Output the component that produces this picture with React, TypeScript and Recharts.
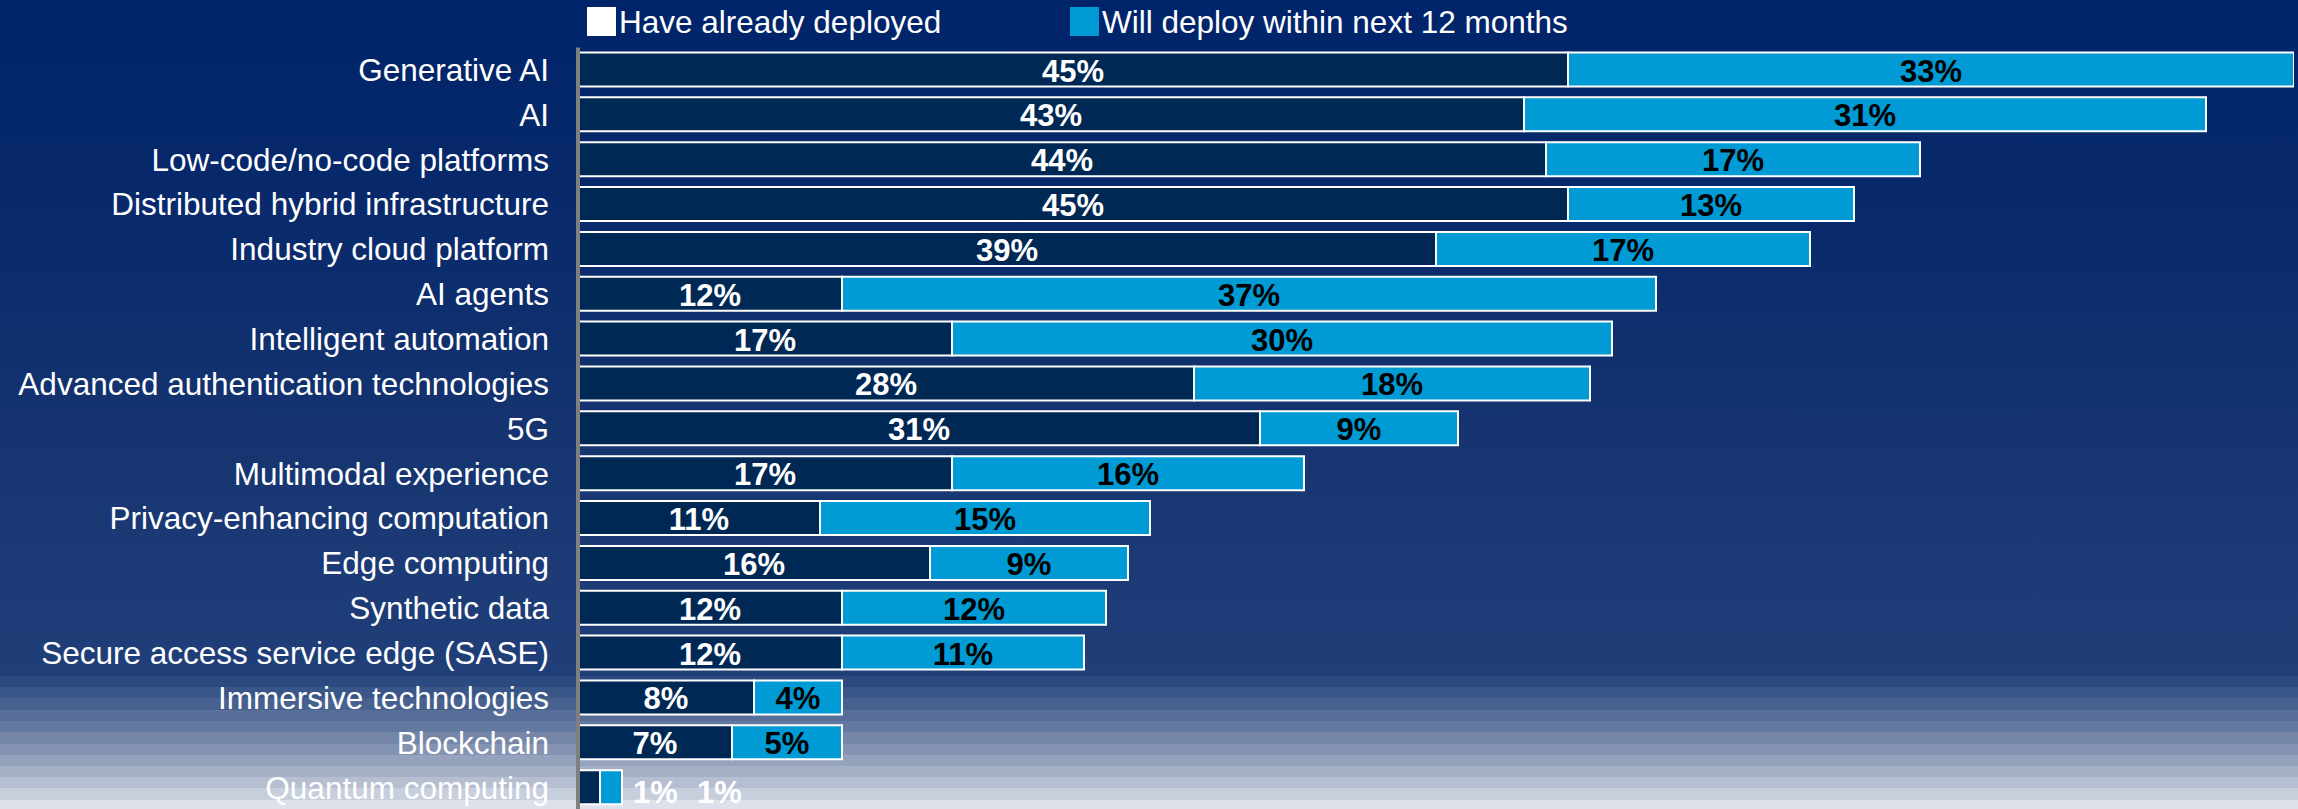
import React from 'react';
import { BarChart, Bar, XAxis, YAxis, LabelList, Legend } from 'recharts';

const categories = [
  'Generative AI',
  'AI',
  'Low-code/no-code platforms',
  'Distributed hybrid infrastructure',
  'Industry cloud platform',
  'AI agents',
  'Intelligent automation',
  'Advanced authentication technologies',
  '5G',
  'Multimodal experience',
  'Privacy-enhancing computation',
  'Edge computing',
  'Synthetic data',
  'Secure access service edge (SASE)',
  'Immersive technologies',
  'Blockchain',
  'Quantum computing',
];
const deployed = [45, 43, 44, 45, 39, 12, 17, 28, 31, 17, 11, 16, 12, 12, 8, 7, 1];
const planned = [33, 31, 17, 13, 17, 37, 30, 18, 9, 16, 15, 9, 12, 11, 4, 5, 1];
const seriesNames = ['Have already deployed', 'Will deploy within next 12 months'];

const data = categories.map((name, i) => ({ name, deployed: deployed[i], planned: planned[i] }));

const FONT = '"Liberation Sans", Arial, sans-serif';
const DARK = '#002855';
const BLUE = '#009ad5';

const bg =
  'linear-gradient(to bottom, #00246a 0px, #0a2b6c 250px, #14336f 420px, #1c3b76 560px, #203f79 676px, ' +
  '#2c4a80 676px, #2c4a80 687px, #3a5689 687px, #3a5689 698px, #486290 698px, #486290 710px, ' +
  '#566e98 710px, #566e98 721px, #6479a1 721px, #6479a1 732px, #7586a9 732px, #7586a9 744px, ' +
  '#8593b3 744px, #8593b3 755px, #95a2bd 755px, #95a2bd 766px, #a5b0c7 766px, #a5b0c7 777px, ' +
  '#b6bfd2 777px, #b6bfd2 788px, #c7cedc 788px, #c7cedc 800px, #dde1ea 800px, #dde1ea 809px)';

const CategoryTick = (props: any) => {
  const { x, y, payload } = props;
  return (
    <text x={x} y={y + 11} textAnchor="end" fill="#ffffff" fontFamily={FONT} fontSize={31.5}>
      {payload.value}
    </text>
  );
};

const makeLabel = (color: string, smallOffset: number) => (props: any) => {
  const { x, y, width, height, value } = props;
  if (width < 40) {
    return (
      <text
        x={x + width + smallOffset}
        y={y + height / 2 + 16}
        textAnchor="start"
        fill="#ffffff"
        fontFamily={FONT}
        fontWeight="bold"
        fontSize={31}
      >
        {value}%
      </text>
    );
  }
  return (
    <text
      x={x + width / 2}
      y={y + height / 2 + 12}
      textAnchor="middle"
      fill={color}
      fontFamily={FONT}
      fontWeight="bold"
      fontSize={31}
    >
      {value}%
    </text>
  );
};

const LegendContent = () => (
  <div style={{ position: 'relative', width: 2298, height: 45, fontFamily: FONT, fontSize: 31.5, color: '#fff' }}>
    <div style={{ position: 'absolute', left: 587, top: 7, width: 29, height: 29, background: '#ffffff' }} />
    <div style={{ position: 'absolute', left: 619, top: 2, lineHeight: '40px', whiteSpace: 'nowrap' }}>{seriesNames[0]}</div>
    <div style={{ position: 'absolute', left: 1070, top: 7, width: 29, height: 29, background: BLUE }} />
    <div style={{ position: 'absolute', left: 1102, top: 2, lineHeight: '40px', whiteSpace: 'nowrap' }}>{seriesNames[1]}</div>
  </div>
);

export default function App() {
  return (
    <div
      style={{
        position: 'absolute',
        top: 0,
        left: 0,
        width: 2298,
        height: 809,
        overflow: 'hidden',
        background: bg,
      }}
    >
      <BarChart
        width={2298}
        height={812}
        data={data}
        layout="vertical"
        margin={{ top: 47.5, right: 4, bottom: 2, left: 0 }}
        barCategoryGap={0}
      >
        <XAxis
          type="number"
          domain={[0, 78]}
          allowDataOverflow
          height={0}
          tick={false}
          tickLine={false}
          axisLine={{ stroke: '#8c8c8c', strokeWidth: 3 }}
        />
        <YAxis
          type="category"
          dataKey="name"
          width={578}
          tickLine={false}
          tickSize={0}
          tickMargin={29}
          interval={0}
          tick={<CategoryTick />}
          axisLine={{ stroke: '#7f7f7f', strokeWidth: 4 }}
        />
        <Legend
          verticalAlign="middle"
          align="center"
          wrapperStyle={{ position: 'absolute', top: 0, left: 0, width: 2298, height: 45 }}
          content={<LegendContent />}
        />
        <Bar
          dataKey="deployed"
          name={seriesNames[0]}
          stackId="a"
          fill={DARK}
          stroke="#ffffff"
          strokeWidth={2}
          barSize={34}
          isAnimationActive={false}
        >
          <LabelList dataKey="deployed" content={makeLabel('#ffffff', 33)} />
        </Bar>
        <Bar
          dataKey="planned"
          name={seriesNames[1]}
          stackId="a"
          fill={BLUE}
          stroke="#ffffff"
          strokeWidth={2}
          barSize={34}
          isAnimationActive={false}
        >
          <LabelList dataKey="planned" content={makeLabel('#000000', 75)} />
        </Bar>
      </BarChart>
    </div>
  );
}
